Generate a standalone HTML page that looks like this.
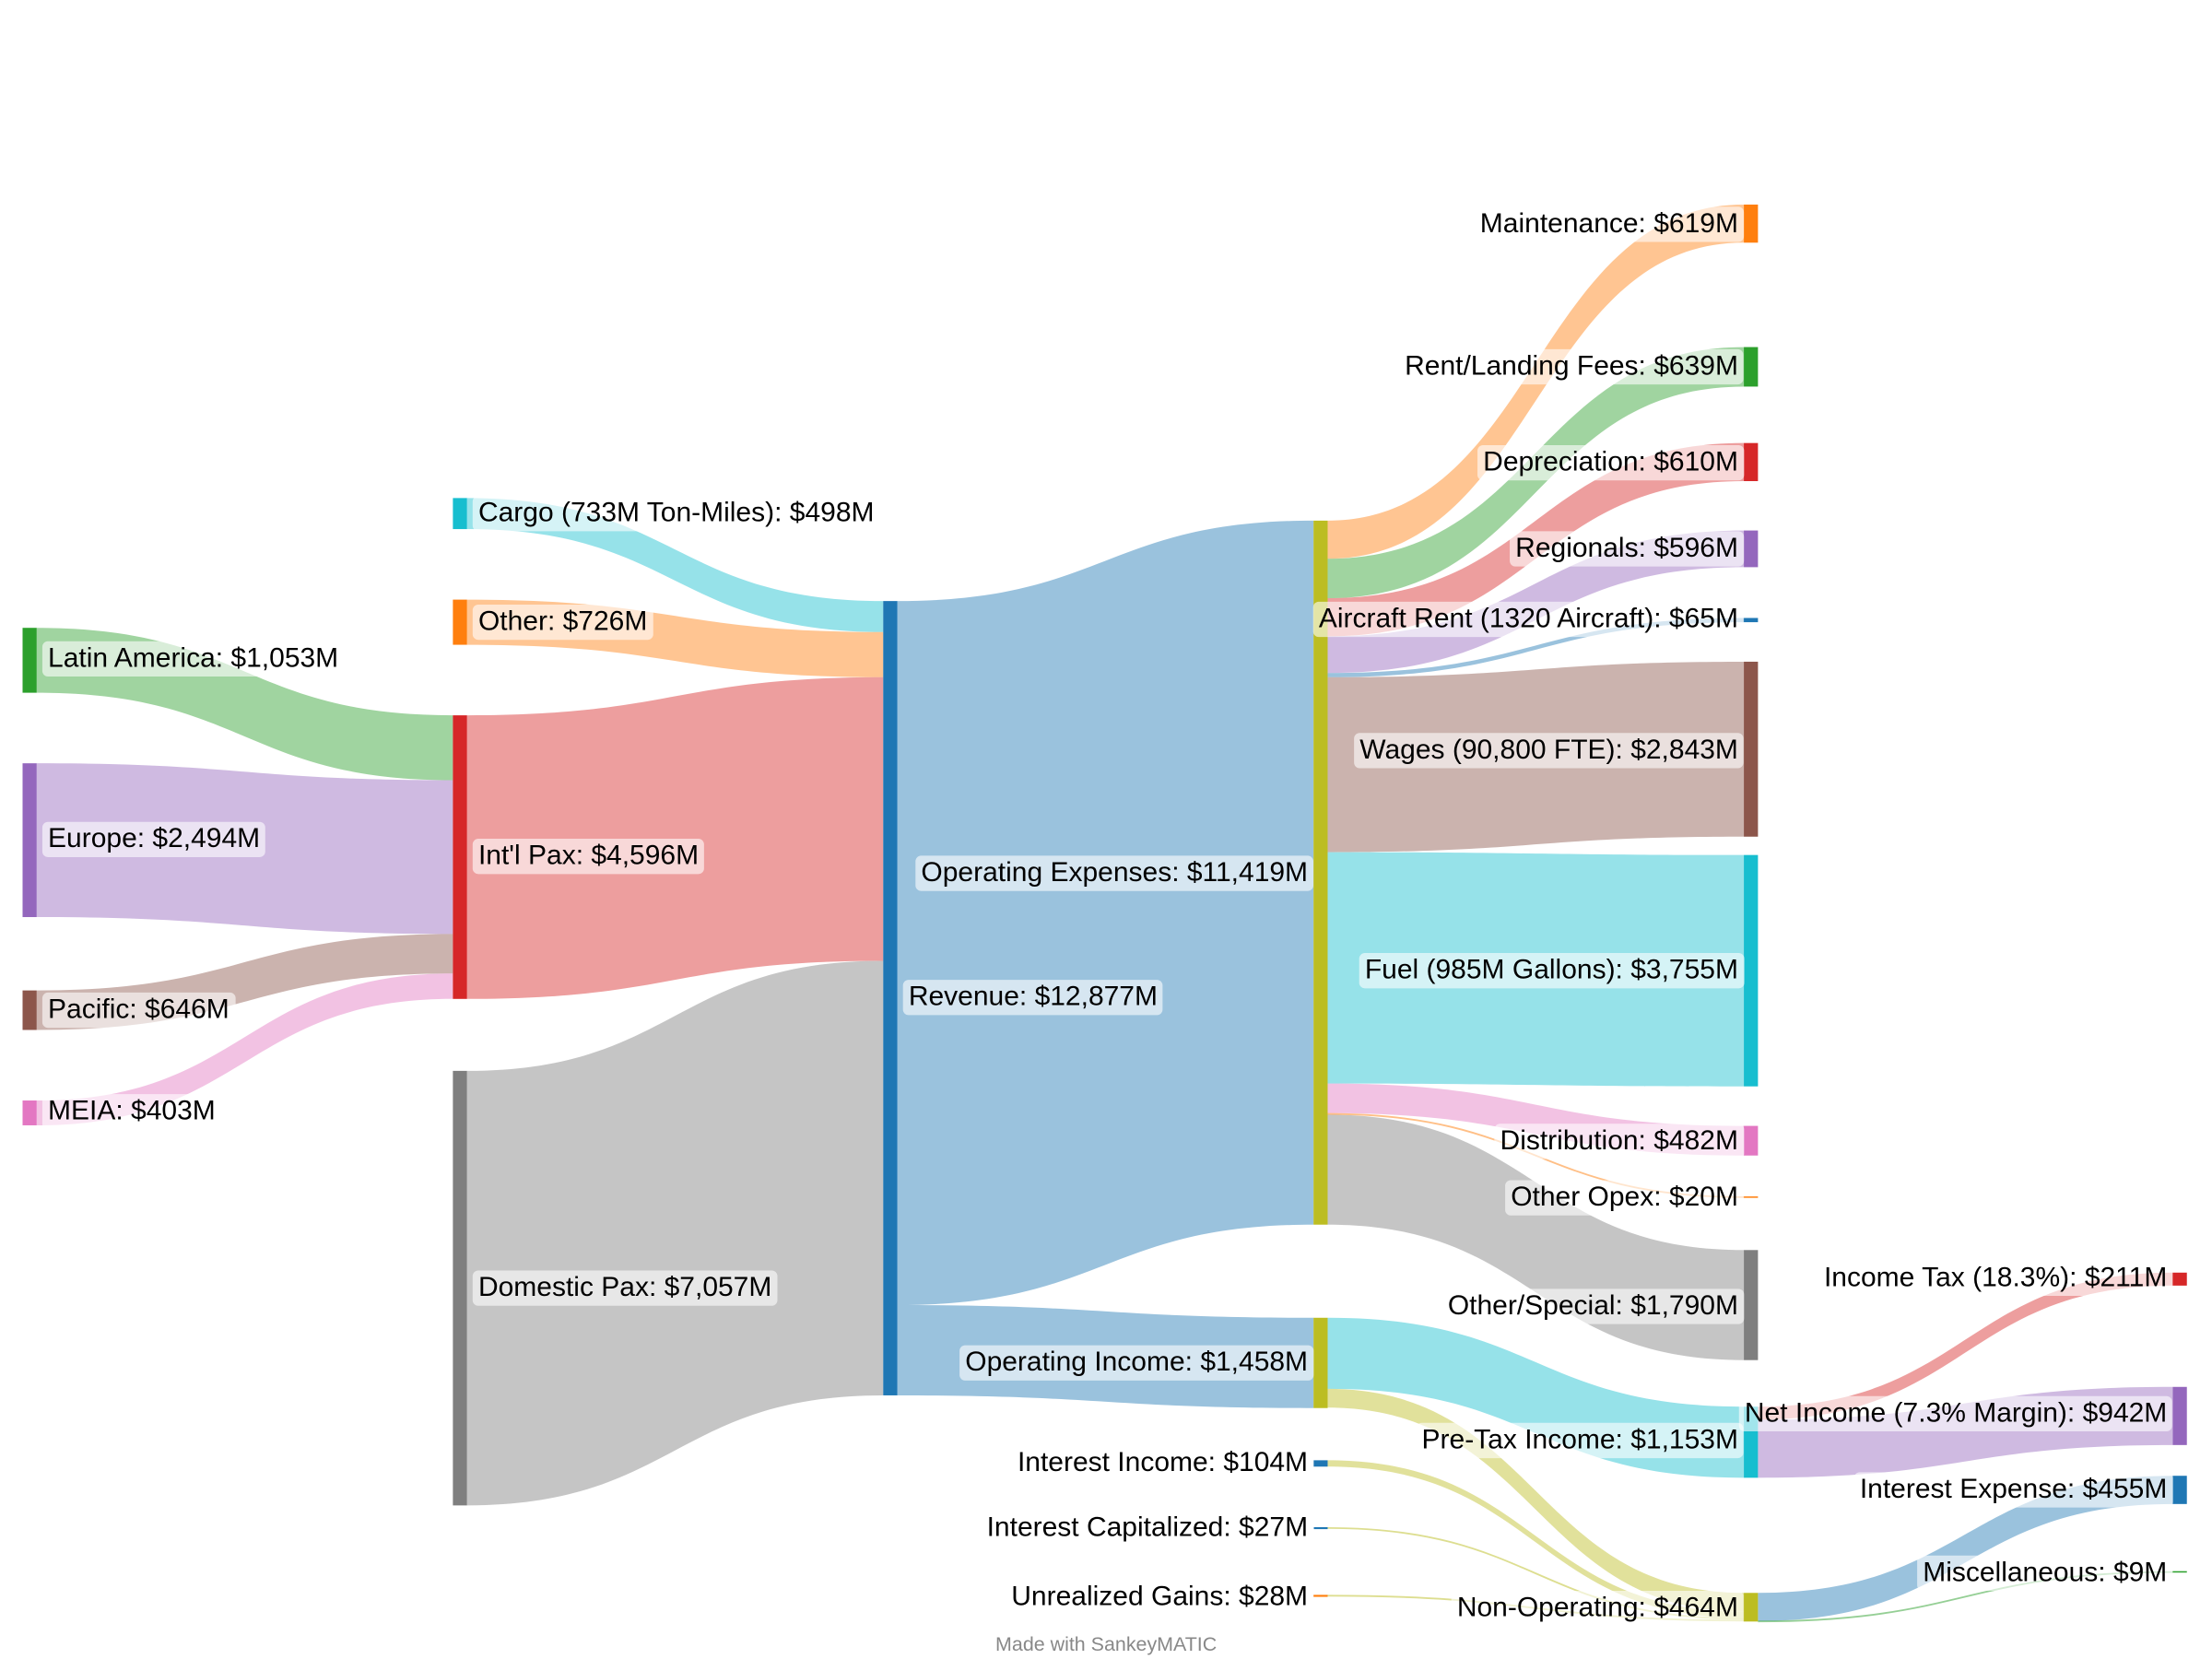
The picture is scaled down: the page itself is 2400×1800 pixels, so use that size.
<!DOCTYPE html>
<html><head><meta charset="utf-8"><style>
html,body{margin:0;padding:0;background:#fff;width:2400px;height:1800px;overflow:hidden}
#wrap{position:absolute;left:0;top:0;width:1560px;height:1170px;transform:scale(1.5308);transform-origin:0 0}
svg{position:absolute;left:0;top:0}
.l{position:absolute;font-family:"Liberation Sans",Arial,sans-serif;font-size:19.6px;color:#000;background:rgba(255,255,255,0.6);padding:1px 4px;border-radius:4px;white-space:nowrap;line-height:23px;transform:translateY(-50%)}
.r{transform:translate(-100%,-50%)}
.f{position:absolute;left:784px;top:1157px;transform:translateX(-50%);font-family:"Liberation Sans",Arial,sans-serif;font-size:14px;color:#888}
</style></head><body><div id="wrap">
<svg width="1560" height="1170" viewBox="0 0 1560 1170">
<g fill-opacity="0.45">
<path fill="#2ca02c" d="M26 445C173.5 445 173.5 507 321 507L321 553C173.5 553 173.5 491 26 491Z"/>
<path fill="#9467bd" d="M26 541C173.5 541 173.5 553 321 553L321 662C173.5 662 173.5 650 26 650Z"/>
<path fill="#8c564b" d="M26 702C173.5 702 173.5 662 321 662L321 690C173.5 690 173.5 730 26 730Z"/>
<path fill="#e377c2" d="M26 780C173.5 780 173.5 690 321 690L321 708C173.5 708 173.5 797.6 26 797.6Z"/>
<path fill="#17becf" d="M331 353C478.5 353 478.5 426 626 426L626 448C478.5 448 478.5 375 331 375Z"/>
<path fill="#ff7f0e" d="M331 425C478.5 425 478.5 448 626 448L626 480C478.5 480 478.5 457 331 457Z"/>
<path fill="#d62728" d="M331 507C478.5 507 478.5 480 626 480L626 681C478.5 681 478.5 708 331 708Z"/>
<path fill="#7f7f7f" d="M331 759C478.5 759 478.5 681 626 681L626 989C478.5 989 478.5 1067 331 1067Z"/>
<path fill="#1f77b4" d="M636 426C783.5 426 783.5 369 931 369L931 868C783.5 868 783.5 925 636 925Z"/>
<path fill="#1f77b4" d="M636 925C783.5 925 783.5 934 931 934L931 998C783.5 998 783.5 989 636 989Z"/>
<path fill="#ff7f0e" d="M941 369C1088.5 369 1088.5 145 1236 145L1236 172C1088.5 172 1088.5 396 941 396Z"/>
<path fill="#2ca02c" d="M941 396C1088.5 396 1088.5 246 1236 246L1236 274C1088.5 274 1088.5 424 941 424Z"/>
<path fill="#d62728" d="M941 424C1088.5 424 1088.5 314 1236 314L1236 341C1088.5 341 1088.5 451 941 451Z"/>
<path fill="#9467bd" d="M941 451C1088.5 451 1088.5 376 1236 376L1236 402C1088.5 402 1088.5 477 941 477Z"/>
<path fill="#1f77b4" d="M941 477C1088.5 477 1088.5 438 1236 438L1236 441C1088.5 441 1088.5 480 941 480Z"/>
<path fill="#8c564b" d="M941 480C1088.5 480 1088.5 469 1236 469L1236 593C1088.5 593 1088.5 604 941 604Z"/>
<path fill="#17becf" d="M941 604C1088.5 604 1088.5 606 1236 606L1236 770C1088.5 770 1088.5 768 941 768Z"/>
<path fill="#e377c2" d="M941 768C1088.5 768 1088.5 798 1236 798L1236 819C1088.5 819 1088.5 789 941 789Z"/>
<path fill="#7f7f7f" d="M941 790C1088.5 790 1088.5 886 1236 886L1236 964C1088.5 964 1088.5 868 941 868Z"/>
<path fill="#17becf" d="M941 934C1088.5 934 1088.5 997 1236 997L1236 1047.4C1088.5 1047.4 1088.5 984.4 941 984.4Z"/>
<path fill="#bcbd22" d="M941 984.4C1088.5 984.4 1088.5 1129 1236 1129L1236 1142.3C1088.5 1142.3 1088.5 997.7 941 997.7Z"/>
<path fill="#bcbd22" d="M941 1035C1088.5 1035 1088.5 1142.3 1236 1142.3L1236 1146.8C1088.5 1146.8 1088.5 1039.5 941 1039.5Z"/>
<path fill="#d62728" d="M1246 997C1393 997 1393 902 1540 902L1540 911.2C1393 911.2 1393 1006.2 1246 1006.2Z"/>
<path fill="#9467bd" d="M1246 1006.2C1393 1006.2 1393 983 1540 983L1540 1024.2C1393 1024.2 1393 1047.4 1246 1047.4Z"/>
<path fill="#1f77b4" d="M1246 1129C1393 1129 1393 1046 1540 1046L1540 1066C1393 1066 1393 1149 1246 1149Z"/>
</g>
<g fill="none" stroke-opacity="0.5" stroke-width="1.2">
<path stroke="#ff7f0e" d="M941 789.5C1088.5 789.5 1088.5 848.5 1236 848.5"/>
<path stroke="#bcbd22" d="M941 1083C1088.5 1083 1088.5 1147.4 1236 1147.4"/>
<path stroke="#bcbd22" d="M941 1131C1088.5 1131 1088.5 1148.6 1236 1148.6"/>
<path stroke="#2ca02c" d="M1246 1149.2C1393 1149.2 1393 1114.2 1540 1114.2"/>
</g>
<g>
<rect x="16" y="445" width="10" height="46" fill="#2ca02c"/>
<rect x="16" y="541" width="10" height="109" fill="#9467bd"/>
<rect x="16" y="702" width="10" height="28" fill="#8c564b"/>
<rect x="16" y="780" width="10" height="17.6" fill="#e377c2"/>
<rect x="321" y="353" width="10" height="22" fill="#17becf"/>
<rect x="321" y="425" width="10" height="32" fill="#ff7f0e"/>
<rect x="321" y="507" width="10" height="201" fill="#d62728"/>
<rect x="321" y="759" width="10" height="308" fill="#7f7f7f"/>
<rect x="626" y="426" width="10" height="563" fill="#1f77b4"/>
<rect x="931" y="369" width="10" height="499" fill="#bcbd22"/>
<rect x="931" y="934" width="10" height="64" fill="#bcbd22"/>
<rect x="931" y="1035" width="10" height="4.5" fill="#1f77b4"/>
<rect x="931" y="1082.4" width="10" height="1.4" fill="#1f77b4"/>
<rect x="931" y="1130.4" width="10" height="1.4" fill="#ff7f0e"/>
<rect x="1236" y="145" width="10" height="27" fill="#ff7f0e"/>
<rect x="1236" y="246" width="10" height="28" fill="#2ca02c"/>
<rect x="1236" y="314" width="10" height="27" fill="#d62728"/>
<rect x="1236" y="376" width="10" height="26" fill="#9467bd"/>
<rect x="1236" y="438" width="10" height="3" fill="#1f77b4"/>
<rect x="1236" y="469" width="10" height="124" fill="#8c564b"/>
<rect x="1236" y="606" width="10" height="164" fill="#17becf"/>
<rect x="1236" y="798" width="10" height="21" fill="#e377c2"/>
<rect x="1236" y="848" width="10" height="1" fill="#ff7f0e"/>
<rect x="1236" y="886" width="10" height="78" fill="#7f7f7f"/>
<rect x="1236" y="997" width="10" height="50.4" fill="#17becf"/>
<rect x="1236" y="1129" width="10" height="20.3" fill="#bcbd22"/>
<rect x="1540" y="902" width="10" height="9.2" fill="#d62728"/>
<rect x="1540" y="983" width="10" height="41.2" fill="#9467bd"/>
<rect x="1540" y="1046" width="10" height="20" fill="#1f77b4"/>
<rect x="1540" y="1113.6" width="10" height="1" fill="#2ca02c"/>
</g>
</svg>
<div class="l" style="left:30px;top:467px">Latin America: $1,053M</div>
<div class="l" style="left:30px;top:595px">Europe: $2,494M</div>
<div class="l" style="left:30px;top:716px">Pacific: $646M</div>
<div class="l" style="left:30px;top:788px">MEIA: $403M</div>
<div class="l" style="left:335px;top:364px">Cargo (733M Ton-Miles): $498M</div>
<div class="l" style="left:335px;top:441px">Other: $726M</div>
<div class="l" style="left:335px;top:607px">Int'l Pax: $4,596M</div>
<div class="l" style="left:335px;top:913px">Domestic Pax: $7,057M</div>
<div class="l" style="left:640px;top:707px">Revenue: $12,877M</div>
<div class="l r" style="left:931px;top:619px">Operating Expenses: $11,419M</div>
<div class="l r" style="left:931px;top:966px">Operating Income: $1,458M</div>
<div class="l r" style="left:931px;top:1037px">Interest Income: $104M</div>
<div class="l r" style="left:931px;top:1083px">Interest Capitalized: $27M</div>
<div class="l r" style="left:931px;top:1132px">Unrealized Gains: $28M</div>
<div class="l r" style="left:1236px;top:159px">Maintenance: $619M</div>
<div class="l r" style="left:1236px;top:260px">Rent/Landing Fees: $639M</div>
<div class="l r" style="left:1236px;top:328px">Depreciation: $610M</div>
<div class="l r" style="left:1236px;top:389px">Regionals: $596M</div>
<div class="l r" style="left:1236px;top:439px">Aircraft Rent (1320 Aircraft): $65M</div>
<div class="l r" style="left:1236px;top:532px">Wages (90,800 FTE): $2,843M</div>
<div class="l r" style="left:1236px;top:688px">Fuel (985M Gallons): $3,755M</div>
<div class="l r" style="left:1236px;top:809px">Distribution: $482M</div>
<div class="l r" style="left:1236px;top:849px">Other Opex: $20M</div>
<div class="l r" style="left:1236px;top:926px">Other/Special: $1,790M</div>
<div class="l r" style="left:1236px;top:1021px">Pre-Tax Income: $1,153M</div>
<div class="l r" style="left:1236px;top:1140px">Non-Operating: $464M</div>
<div class="l r" style="left:1540px;top:906px">Income Tax (18.3%): $211M</div>
<div class="l r" style="left:1540px;top:1002px">Net Income (7.3% Margin): $942M</div>
<div class="l r" style="left:1540px;top:1056px">Interest Expense: $455M</div>
<div class="l r" style="left:1540px;top:1115px">Miscellaneous: $9M</div>
<div class="f">Made with SankeyMATIC</div>
</div></body></html>
